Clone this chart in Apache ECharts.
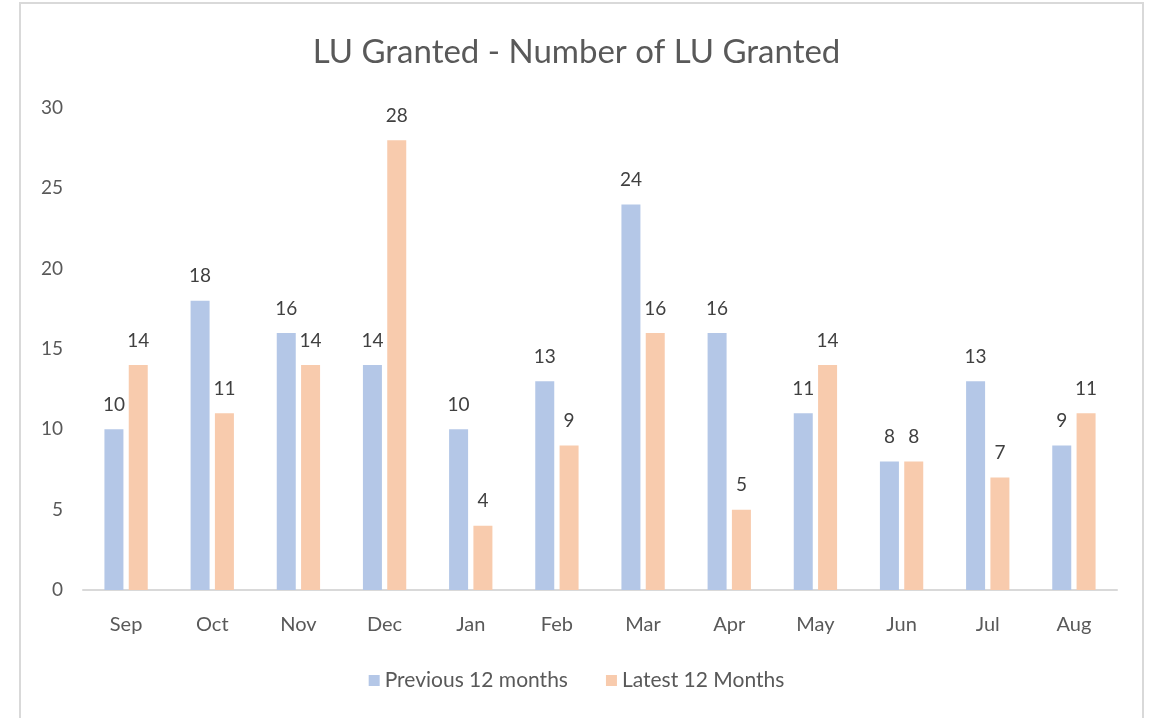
<!DOCTYPE html>
<html>
<head>
<meta charset="utf-8">
<script src="https://cdn.jsdelivr.net/npm/echarts@6/dist/echarts.min.js"></script>
<style>
  html, body { margin: 0; padding: 0; background: #fff; }
  #frame { position: absolute; left: 19px; top: 2px; width: 1125px; height: 730px; border: 2px solid #d9d9d9; box-sizing: border-box; }
  #chart { position: absolute; left: 0; top: 0; width: 1153px; height: 718px; }
</style>
</head>
<body>
<div id="frame"></div>
<div id="chart"></div>
<script>
var months = ["Sep", "Oct", "Nov", "Dec", "Jan", "Feb", "Mar", "Apr", "May", "Jun", "Jul", "Aug"];
var previous12 = [10, 18, 16, 14, 10, 13, 24, 16, 11, 8, 13, 9];
var latest12 = [14, 11, 14, 28, 4, 9, 16, 5, 14, 8, 7, 11];
var yTicks = [0, 5, 10, 15, 20, 25, 30];

var txt = "#595959";
var font = "Lato, 'Open Sans', sans-serif";

var chart = echarts.init(document.getElementById("chart"));
var option = {
    backgroundColor: 'transparent',
    animation: false,
    title: {
        text: "LU Granted - Number of LU Granted",
        left: 'center',
        top: 31,
        textStyle: { color: txt, fontSize: 33, fontWeight: 'normal', fontFamily: font }
    },
    legend: {
        bottom: 22,
        left: 'center',
        itemWidth: 11,
        itemHeight: 11,
        itemGap: 38,
        icon: 'rect',
        textStyle: { color: txt, fontSize: 21, fontFamily: font }
    },
    grid: { left: 83, right: 36, top: 108, bottom: 128 },
    xAxis: {
        type: 'category',
        data: months,
        axisLine: { show: true, lineStyle: { color: "#d9d9d9", width: 2 } },
        axisTick: { show: false },
        axisLabel: { color: txt, fontSize: 20, margin: 25, fontFamily: font }
    },
    yAxis: {
        type: 'value',
        min: yTicks[0],
        max: yTicks[yTicks.length - 1],
        interval: 5,
        axisLine: { show: false },
        axisTick: { show: false },
        splitLine: { show: false },
        axisLabel: { color: txt, fontSize: 19, margin: 20, fontFamily: font }
    },
    series: [
        {
            name: "Previous 12 months",
            type: 'bar',
            data: previous12,
            barWidth: 19,
            barGap: '28%',
            itemStyle: { color: "#b4c7e7" },
            label: { show: true, position: 'top', distance: 15, color: "#404040", fontSize: 19, fontFamily: font }
        },
        {
            name: "Latest 12 Months",
            type: 'bar',
            data: latest12,
            barWidth: 19,
            itemStyle: { color: "#f8cbad" },
            label: { show: true, position: 'top', distance: 15, color: "#404040", fontSize: 19, fontFamily: font }
        }
    ]
};
chart.setOption(option);
</script>
</body>
</html>
